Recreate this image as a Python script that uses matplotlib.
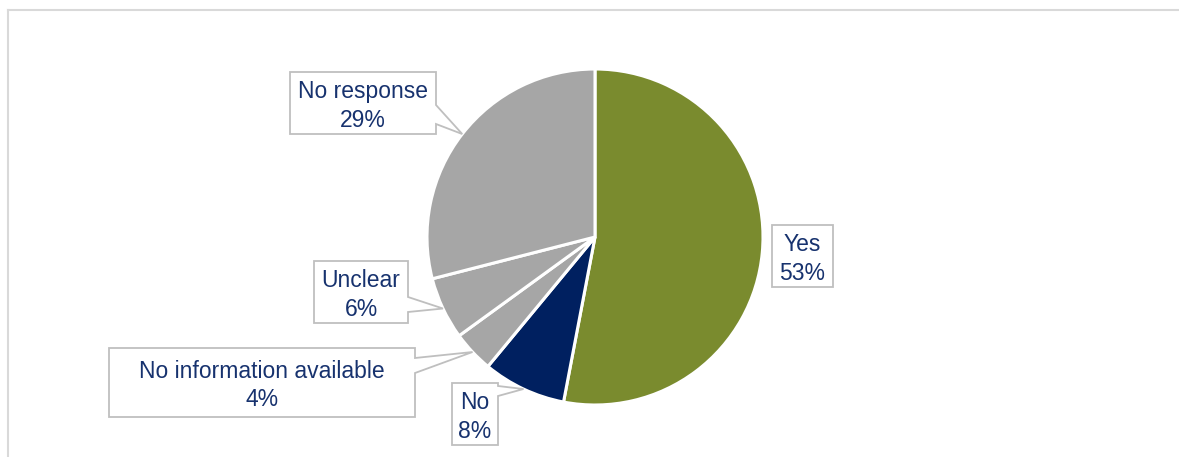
import numpy as np
import matplotlib.pyplot as plt
from matplotlib.patches import Polygon
from matplotlib.lines import Line2D

''' data '''
labels = ['Yes', 'No', 'No information available', 'Unclear', 'No response']
shares = [53, 8, 4, 6, 29]
colors = ['#7A8B2E', '#002060', '#A6A6A6', '#A6A6A6', '#A6A6A6']

''' layout (pixels, measured from the top-left corner) '''
W, H = 1179, 457
cx, cy, rad = 595, 237, 168
# label boxes: x0, y0, x1, y1, pointer base on right edge (ya, yb) or None
boxes = [
    (772, 225, 833, 287, None),
    (452, 383, 498, 445, (386, 396)),
    (109, 348, 415, 417, (358, 373)),
    (314, 261, 408, 323, (297, 312)),
    (290, 72, 436, 134, (105, 124)),
]
text_color = '#17326E'
edge_gray = '#BFBFBF'

fig = plt.figure(figsize=(W / 100, H / 100), dpi=100)
ax = fig.add_axes([0, 0, 1, 1])

ax.pie(shares, colors=colors, startangle=90, counterclock=False,
       center=(cx, H - cy), radius=rad,
       wedgeprops=dict(edgecolor='white', linewidth=2.2))

# slice mid angles, clockwise from 12 o'clock
bounds = 90 - 360 * np.cumsum([0] + shares) / sum(shares)
mids = np.deg2rad((bounds[:-1] + bounds[1:]) / 2)

for name, val, mid, (x0, y0, x1, y1, base) in zip(labels, shares, mids, boxes):
    tip = (cx + rad * np.cos(mid), H - cy + rad * np.sin(mid))
    pts = [(x0, H - y0), (x1, H - y0)]
    if base is not None:
        pts += [(x1, H - base[0]), tip, (x1, H - base[1])]
    pts += [(x1, H - y1), (x0, H - y1)]
    ax.add_patch(Polygon(pts, closed=True, facecolor='white',
                         edgecolor=edge_gray, linewidth=1.3, zorder=3))
    ax.text((x0 + x1) / 2, H - (y0 + y1) / 2 - 3, f'{name}\n{val}%',
            ha='center', va='center', fontsize=16.5, color=text_color,
            family='Liberation Sans', linespacing=1.3, zorder=4)

ax.set_xlim(0, W)
ax.set_ylim(0, H)
ax.set_aspect('auto')
ax.axis('off')

# outer frame
fig.add_artist(Line2D([8 / W, 1], [1 - 10 / H, 1 - 10 / H], color='#D9D9D9', lw=1.5))
fig.add_artist(Line2D([8 / W, 8 / W], [0, 1 - 10 / H], color='#D9D9D9', lw=1.5))

fig.savefig('out.png', dpi=100)
